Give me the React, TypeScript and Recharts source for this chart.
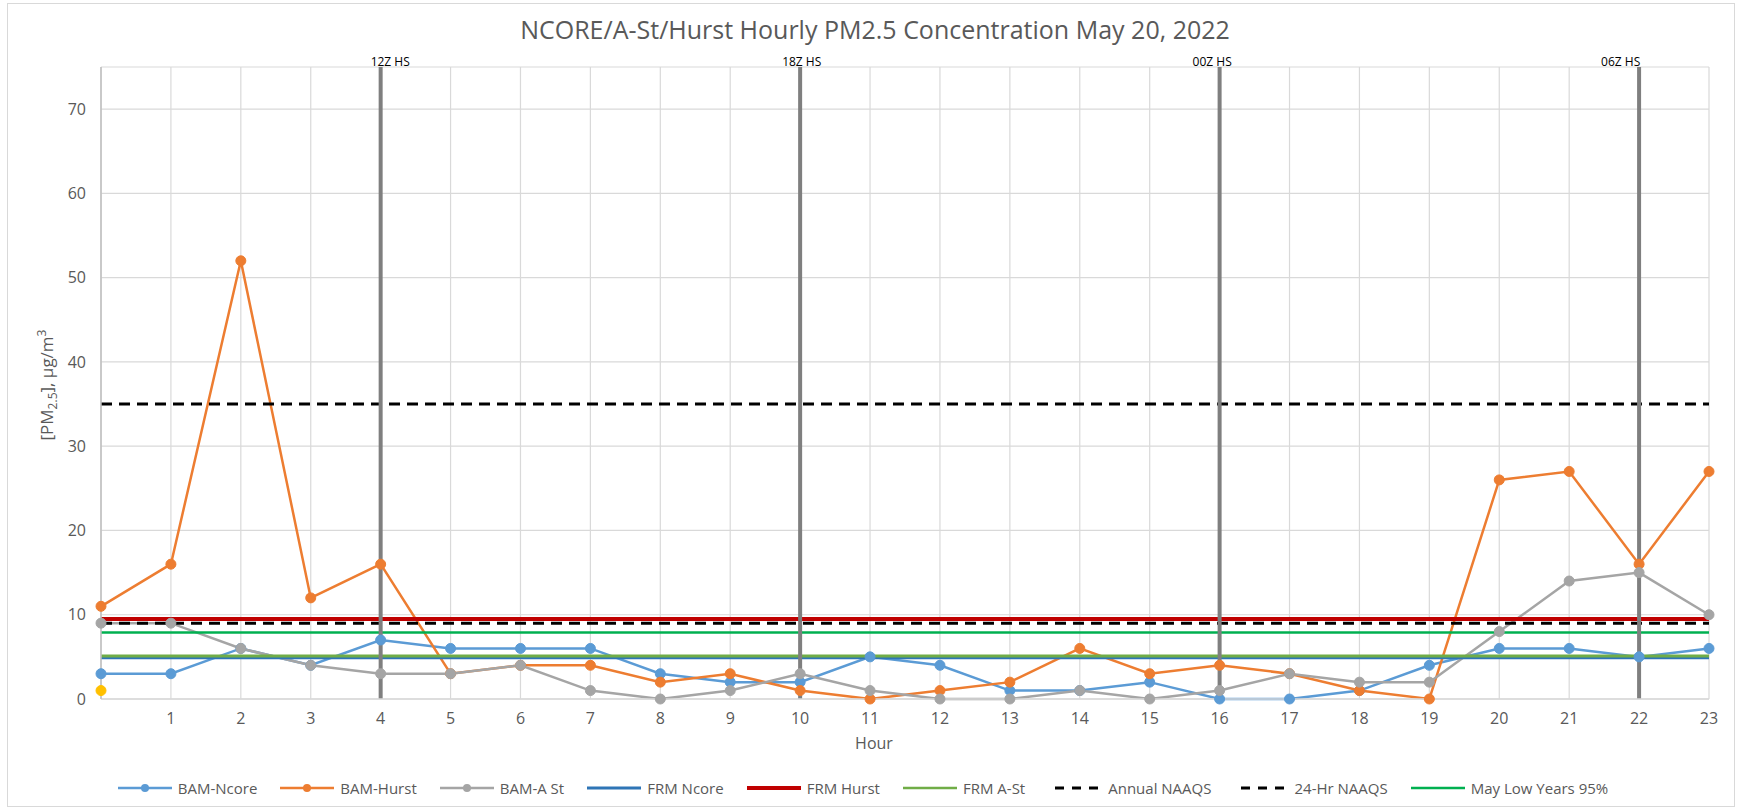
import { LineChart, Line, XAxis, YAxis, CartesianGrid, ReferenceLine } from "recharts";

const hours = [0, 1, 2, 3, 4, 5, 6, 7, 8, 9, 10, 11, 12, 13, 14, 15, 16, 17, 18, 19, 20, 21, 22, 23];
const bamNcore = [3, 3, 6, 4, 7, 6, 6, 6, 3, 2, 2, 5, 4, 1, 1, 2, 0, 0, 1, 4, 6, 6, 5, 6];
const bamHurst = [11, 16, 52, 12, 16, 3, 4, 4, 2, 3, 1, 0, 1, 2, 6, 3, 4, 3, 1, 0, 26, 27, 16, 27];
const bamASt = [9, 9, 6, 4, 3, 3, 4, 1, 0, 1, 3, 1, 0, 0, 1, 0, 1, 3, 2, 2, 8, 14, 15, 10];

// flat reference levels, drawn as series like the original
const frmNcore = 4.9;
const frmHurst = 9.5;
const frmASt = 5.1;
const annualNaaqs = 9;
const dailyNaaqs = 35;
const mayLow95 = 7.9;

// lone yellow marker at hour 0 (no legend entry)
const extraPoint = { hour: 0, value: 1 };

const xTicks = [1, 2, 3, 4, 5, 6, 7, 8, 9, 10, 11, 12, 13, 14, 15, 16, 17, 18, 19, 20, 21, 22, 23];
const yTicks = [0, 10, 20, 30, 40, 50, 60, 70];

const hsHours = [4, 10, 16, 22];
const hsLabels = ["12Z HS", "18Z HS", "00Z HS", "06Z HS"];
const hsLabelShift = [-10, -18, -27, -38];

const rows = hours.map((h, i) => ({
  hour: h,
  bamNcore: bamNcore[i],
  bamHurst: bamHurst[i],
  bamASt: bamASt[i],
  frmNcore,
  frmHurst,
  frmASt,
  annualNaaqs,
  dailyNaaqs,
  mayLow95,
  extra: h === extraPoint.hour ? extraPoint.value : null,
}));

const font = "'Open Sans', 'Noto Sans', sans-serif";
const textGray = "#595959";

const legendItems = [
  { name: "BAM-Ncore", color: "#5b9bd5", width: 2.5, dash: "", marker: true },
  { name: "BAM-Hurst", color: "#ed7d31", width: 2.5, dash: "", marker: true },
  { name: "BAM-A St", color: "#a5a5a5", width: 2.5, dash: "", marker: true },
  { name: "FRM Ncore", color: "#2e75b6", width: 3, dash: "", marker: false },
  { name: "FRM Hurst", color: "#c00000", width: 4, dash: "", marker: false },
  { name: "FRM A-St", color: "#70ad47", width: 2.5, dash: "", marker: false },
  { name: "Annual NAAQS", color: "#000000", width: 3, dash: "9 8", marker: false },
  { name: "24-Hr NAAQS", color: "#000000", width: 3, dash: "9 8", marker: false },
  { name: "May Low Years 95%", color: "#00b050", width: 2.5, dash: "", marker: false },
];

function HsLabel(props: any) {
  const vb = props.viewBox || {};
  return (
    <text x={vb.x + props.shift} y={vb.y - 1} fontSize={12} fill="#000" fontFamily={font}>
      {props.text}
    </text>
  );
}

function Legend() {
  return (
    <div
      style={{
        position: "absolute",
        left: 0,
        top: 778,
        width: 1726,
        display: "flex",
        justifyContent: "center",
        alignItems: "center",
        gap: 23,
        fontFamily: font,
        fontSize: 15,
        color: textGray,
      }}
    >
      {legendItems.map((it) => (
        <div key={it.name} style={{ display: "flex", alignItems: "center", gap: 6 }}>
          <svg width={54} height={14}>
            <line
              x1={it.dash ? 7 : 0}
              y1={7}
              x2={it.dash ? 50 : 54}
              y2={7}
              stroke={it.color}
              strokeWidth={it.width}
              strokeDasharray={it.dash}
            />
            {it.marker && <circle cx={27} cy={7} r={4} fill={it.color} />}
          </svg>
          <span style={{ whiteSpace: "nowrap" }}>{it.name}</span>
        </div>
      ))}
    </div>
  );
}

export default function App() {
  return (
    <div style={{ position: "absolute", left: 0, top: 0, width: 1741, height: 809, background: "#fff" }}>
      <div
        style={{
          position: "absolute",
          left: 7,
          top: 3,
          width: 1726,
          height: 802,
          border: "1px solid #d9d9d9",
        }}
      />
      <div
        style={{
          position: "absolute",
          left: 0,
          width: 1750,
          top: 12,
          textAlign: "center",
          fontFamily: font,
          fontSize: 25,
          color: textGray,
          whiteSpace: "nowrap",
        }}
      >
        NCORE/A-St/Hurst Hourly PM2.5 Concentration May 20, 2022
      </div>
      <div
        style={{
          position: "absolute",
          left: 47,
          top: 385,
          transform: "translate(-50%, -50%) rotate(-90deg)",
          fontFamily: font,
          fontSize: 17,
          color: textGray,
          whiteSpace: "nowrap",
        }}
      >
        [PM<sub style={{ fontSize: 12 }}>2.5</sub>], μg/m<sup style={{ fontSize: 12 }}>3</sup>
      </div>
      <div
        style={{
          position: "absolute",
          left: 874,
          top: 743,
          transform: "translate(-50%, -50%)",
          fontFamily: font,
          fontSize: 16,
          color: textGray,
        }}
      >
        Hour
      </div>
      <div style={{ position: "absolute", left: 0, top: 0 }}>
        <LineChart width={1741} height={809} data={rows} margin={{ top: 67, right: 32, bottom: 70, left: 0 }}>
          <CartesianGrid stroke="#d9d9d9" strokeWidth={1.2} />
          <XAxis
            type="number"
            dataKey="hour"
            domain={[0, 23]}
            ticks={xTicks}
            interval={0}
            tickLine={false}
            axisLine={{ stroke: "#d9d9d9", strokeWidth: 1.5 }}
            tick={{ fill: textGray, fontSize: 16, fontFamily: font }}
            tickMargin={8}
            height={40}
          />
          <YAxis
            type="number"
            domain={[0, 75]}
            ticks={yTicks}
            interval={0}
            width={101}
            tickLine={false}
            axisLine={{ stroke: "#bfbfbf", strokeWidth: 1.5 }}
            tick={{ fill: textGray, fontSize: 16, fontFamily: font }}
            tickMargin={9}
          />
          <Line dataKey="bamNcore" stroke="#5b9bd5" strokeWidth={2.5} dot={{ r: 5, fill: "#5b9bd5", stroke: "#5b9bd5", strokeWidth: 1 }} activeDot={false} isAnimationActive={false} />
          <Line dataKey="bamHurst" stroke="#ed7d31" strokeWidth={2.5} dot={{ r: 5, fill: "#ed7d31", stroke: "#ed7d31", strokeWidth: 1 }} activeDot={false} isAnimationActive={false} />
          <Line dataKey="bamASt" stroke="#a5a5a5" strokeWidth={2.5} dot={{ r: 5, fill: "#a5a5a5", stroke: "#a5a5a5", strokeWidth: 1 }} activeDot={false} isAnimationActive={false} />
          <Line dataKey="frmNcore" stroke="#2e75b6" strokeWidth={3} dot={false} activeDot={false} isAnimationActive={false} />
          <Line dataKey="frmHurst" stroke="#c00000" strokeWidth={4} dot={false} activeDot={false} isAnimationActive={false} />
          <Line dataKey="frmASt" stroke="#70ad47" strokeWidth={3} dot={false} activeDot={false} isAnimationActive={false} />
          <Line dataKey="annualNaaqs" stroke="#000" strokeWidth={3} strokeDasharray="11 7" dot={false} activeDot={false} isAnimationActive={false} />
          <Line dataKey="dailyNaaqs" stroke="#000" strokeWidth={3} strokeDasharray="11 7" dot={false} activeDot={false} isAnimationActive={false} />
          <Line dataKey="mayLow95" stroke="#00b050" strokeWidth={2.5} dot={false} activeDot={false} isAnimationActive={false} />
          <Line dataKey="extra" stroke="none" dot={{ r: 5, fill: "#ffc000", stroke: "#ffc000", strokeWidth: 1 }} activeDot={false} isAnimationActive={false} />
          {hsHours.map((h, i) => (
            <ReferenceLine
              key={h}
              x={h}
              stroke="#7f7f7f"
              strokeWidth={4}
              label={<HsLabel text={hsLabels[i]} shift={hsLabelShift[i]} />}
            />
          ))}
        </LineChart>
      </div>
      <Legend />
    </div>
  );
}
